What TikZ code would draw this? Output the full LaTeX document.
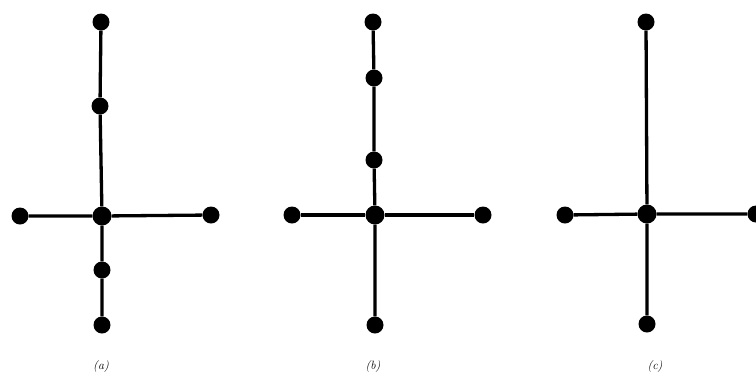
\documentclass[tikz,border=0pt]{standalone}
\begin{document}
\begin{tikzpicture}[x=1pt,y=-1pt,
  dot/.style={circle,fill=black,inner sep=0pt,minimum size=17pt},
  hub/.style={circle,fill=black,inner sep=0pt,minimum size=19pt},
  edge/.style={line width=3.3pt},
  lab/.style={font=\fontsize{12}{14}\selectfont\itshape}]
\useasboundingbox (0,0) rectangle (756,376);
\clip (0,0) rectangle (756,376);
% (a)
\node[hub] (ac) at (102,216) {};
\node[dot] (at) at (101,22) {};
\node[dot] (am) at (100,106) {};
\node[dot] (al) at (20,216) {};
\node[dot] (ar) at (211,215) {};
\node[dot] (ad) at (102,270) {};
\node[dot] (ab) at (102,325) {};
\draw[edge] (at) -- (am) -- (ac) -- (ad) -- (ab);
\draw[edge] (al) -- (ac) -- (ar);
\node[lab] (la) at (101,366) {(a)};
% (b)
\node[hub] (bc) at (375,215) {};
\node[dot] (bt) at (373,22) {};
\node[dot] (bm1) at (374,78) {};
\node[dot] (bm2) at (374,160) {};
\node[dot] (bl) at (292,215) {};
\node[dot] (br) at (483,215) {};
\node[dot] (bb) at (375,325) {};
\draw[edge] (bt) -- (bm1) -- (bm2) -- (bc) -- (bb);
\draw[edge] (bl) -- (bc) -- (br);
\node[lab] (lb) at (373,366) {(b)};
% (c)
\node[hub] (cc) at (647,214) {};
\node[dot] (ct) at (646,22) {};
\node[dot] (cl) at (565,215) {};
\node[dot] (cr) at (756,214) {};
\node[dot] (cb) at (647,324) {};
\draw[edge] (ct) -- (cc) -- (cb);
\draw[edge] (cl) -- (cc) -- (cr);
\node[lab] (lc) at (655,366) {(c)};
\end{tikzpicture}
\end{document}
